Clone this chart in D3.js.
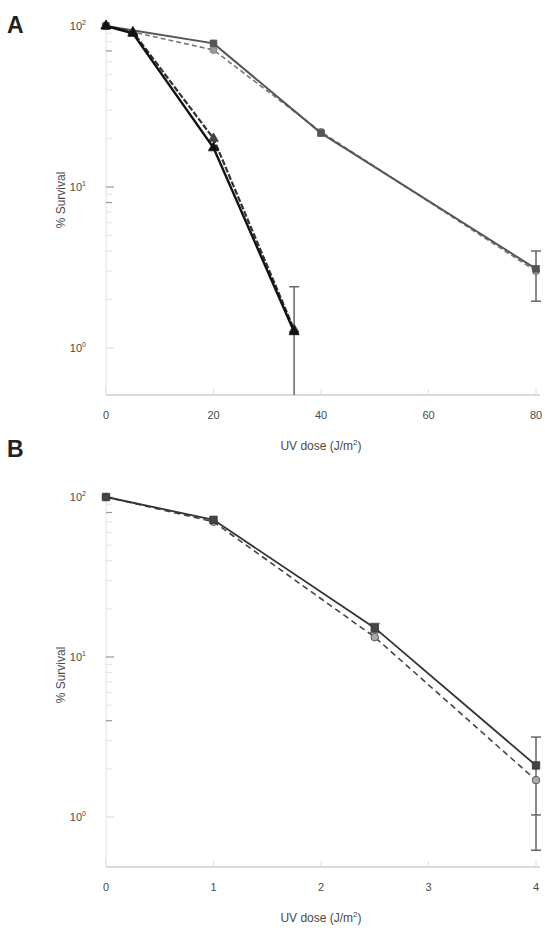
<!DOCTYPE html>
<html lang="en">
  <head>
    <meta charset="utf-8">
    <title>UV survival</title>
    <style>
      body { margin: 0; background: #fff; }
      text { font-family: "Liberation Sans", Arial, sans-serif; }
    </style>
  </head>
  <body>
<script src="https://d3js.org/d3.v7.min.js"></script>
<script>
// ---- data ----
// panel A
var doseSteep = [0, 5, 20, 35];
var steepSolid = [100, 90, 17.5, 1.26];
var steepDashed = [100, 92, 20, 1.3];
var doseShallow = [0, 20, 40, 80];
var shallowSolid = [100, 78, 21.6, 3.1];
var shallowDashed = [100, 71, 22, 3.0];
var errA = [{x: 35, lo: 0.3, hi: 2.4}, {x: 80, lo: 1.95, hi: 4.0}];
var xTicksA = [0, 20, 40, 60, 80];

// panel B
var doseB = [0, 1, 2.5, 4];
var bSolid = [100, 72, 15.2, 2.1];
var bDashed = [100, 70, 13.3, 1.7];
var errB = [{x: 4, lo: 0.62, hi: 3.16, mid: 1.03}, {x: 2.5, lo: 14.2, hi: 16.2}];
var xTicksB = [0, 1, 2, 3, 4];

var yTicks = [100, 10, 1];
var supers = {100: "2", 10: "1", 1: "0"};

var svg = d3.select("body").append("svg")
  .attr("width", 545)
  .attr("height", 931);

function panel(opt) {
  var g = svg.append("g");
  var x = d3.scaleLinear().domain(opt.xDomain).range([106, 536]);
  var y = opt.y;
  var yBottom = opt.yBottom, yTop = opt.yTop;

  // panel letter
  g.append("text")
    .attr("x", 7).attr("y", opt.letterY)
    .attr("font-size", 23).attr("font-weight", "bold")
    .attr("fill", "#222")
    .text(opt.letter);

  // axes lines
  g.append("line")
    .attr("x1", 106).attr("x2", 106)
    .attr("y1", yTop).attr("y2", yBottom)
    .attr("stroke", "#e2e2e2").attr("stroke-width", 1);
  g.append("line")
    .attr("x1", 106).attr("x2", 540)
    .attr("y1", yBottom).attr("y2", yBottom)
    .attr("stroke", "#ccc").attr("stroke-width", 1.5);

  // minor y ticks
  var minors = [];
  [1, 10].forEach(function(dec) {
    d3.range(2, 10).forEach(function(m) { minors.push(dec * m); });
  });
  g.selectAll(".minor")
    .data(minors.filter(function(v) { return y(v) < yBottom - 4; }))
    .enter().append("line")
      .attr("x1", 106).attr("x2", 112)
      .attr("y1", function(d) { return y(d); })
      .attr("y2", function(d) { return y(d); })
      .attr("stroke", function(d) { return opt.darkMinor.indexOf(d) >= 0 ? "#999" : "#e6e6e6"; })
      .attr("stroke-width", 1.2);

  // major y ticks + labels
  g.selectAll(".major")
    .data(yTicks)
    .enter().append("line")
      .attr("x1", 106).attr("x2", 114)
      .attr("y1", function(d) { return y(d); })
      .attr("y2", function(d) { return y(d); })
      .attr("stroke", function(d) { return d === 10 ? "#999" : "#ddd"; })
      .attr("stroke-width", 1.2);
  var lab = g.selectAll(".ylab")
    .data(yTicks)
    .enter().append("text")
      .attr("x", 86).attr("y", function(d) { return y(d) + 4; })
      .attr("text-anchor", "end")
      .attr("font-size", 11).attr("fill", "#4a4a4a");
  lab.append("tspan").text("10");
  lab.append("tspan").attr("dy", -5).attr("font-size", 7).text(function(d) { return supers[d]; });

  // x ticks + labels
  g.selectAll(".xt")
    .data(opt.xTicks)
    .enter().append("line")
      .attr("x1", function(d) { return x(d); })
      .attr("x2", function(d) { return x(d); })
      .attr("y1", yBottom).attr("y2", yBottom - 6)
      .attr("stroke", "#ddd");
  g.selectAll(".xl")
    .data(opt.xTicks)
    .enter().append("text")
      .attr("x", function(d) { return x(d); })
      .attr("y", yBottom + 24)
      .attr("text-anchor", "middle")
      .attr("font-size", 11).attr("fill", "#4a4a4a")
      .text(function(d) { return d; });

  // axis titles
  var xt = g.append("text")
    .attr("x", 321).attr("y", yBottom + 55)
    .attr("text-anchor", "middle")
    .attr("font-size", 12).attr("fill", "#4a4a4a");
  xt.append("tspan").text("UV dose (J/m");
  xt.append("tspan").attr("dy", -5).attr("font-size", 8).text("2");
  xt.append("tspan").attr("dy", 5).text(")");

  g.append("text")
    .attr("transform", "translate(65," + opt.titleY + ") rotate(-90)")
    .attr("text-anchor", "middle")
    .attr("font-size", 12).attr("fill", "#4a4a4a")
    .text("% Survival");

  // error bars
  opt.err.forEach(function(e) {
    var y1 = Math.min(y(e.lo), yBottom), y2 = y(e.hi);
    g.append("line")
      .attr("x1", x(e.x)).attr("x2", x(e.x))
      .attr("y1", y1).attr("y2", y2)
      .attr("stroke", "#666").attr("stroke-width", 1.5);
    [e.hi, e.lo, e.mid].forEach(function(v) {
      if (v === undefined || y(v) > yBottom) return;
      g.append("line")
        .attr("x1", x(e.x) - 5).attr("x2", x(e.x) + 5)
        .attr("y1", y(v)).attr("y2", y(v))
        .attr("stroke", "#666").attr("stroke-width", 1.5);
    });
  });

  var line = d3.line()
    .x(function(d) { return x(d[0]); })
    .y(function(d) { return y(d[1]); });

  opt.series.forEach(function(s) {
    var pts = d3.zip(s.x, s.v);
    g.append("path")
      .attr("d", line(pts))
      .attr("fill", "none")
      .attr("stroke", s.color)
      .attr("stroke-width", s.width)
      .attr("stroke-dasharray", s.dash || null);
    var sym = d3.symbol().type(s.symbol).size(s.size);
    g.selectAll(null)
      .data(pts)
      .enter().append("path")
        .attr("d", sym)
        .attr("transform", function(d) { return "translate(" + x(d[0]) + "," + y(d[1]) + ")"; })
        .attr("fill", s.fill)
        .attr("stroke", s.color)
        .attr("stroke-width", 0.8);
  });
}

// panel A
var yA = d3.scaleLog().domain([0.51, 100]).range([395, 26]);
panel({
  letter: "A", letterY: 33,
  xDomain: [0, 80], xTicks: xTicksA,
  y: yA, yTop: 26, yBottom: 395, titleY: 200,
  darkMinor: [70, 8],
  err: errA,
  series: [
    {x: doseShallow, v: shallowDashed, color: "#777", width: 1.6, dash: "5,3", symbol: d3.symbolCircle, size: 40, fill: "#999"},
    {x: doseShallow, v: shallowSolid, color: "#555", width: 2, symbol: d3.symbolSquare, size: 45, fill: "#555"},
    {x: doseSteep, v: steepDashed, color: "#333", width: 2.2, dash: "6,2", symbol: d3.symbolTriangle, size: 40, fill: "#444"},
    {x: doseSteep, v: steepSolid, color: "#111", width: 2.4, symbol: d3.symbolTriangle, size: 45, fill: "#111"}
  ]
});

// panel B
var yB = d3.scaleLog().domain([0.487, 100]).range([867, 497]);
panel({
  letter: "B", letterY: 457,
  xDomain: [0, 4], xTicks: xTicksB,
  y: yB, yTop: 497, yBottom: 867, titleY: 675,
  darkMinor: [80, 4],
  err: errB,
  series: [
    {x: doseB, v: bDashed, color: "#444", width: 1.6, dash: "6,4", symbol: d3.symbolCircle, size: 45, fill: "#aaa"},
    {x: doseB, v: bSolid, color: "#333", width: 1.8, symbol: d3.symbolSquare, size: 55, fill: "#444"}
  ]
});
</script>
  </body>
</html>
